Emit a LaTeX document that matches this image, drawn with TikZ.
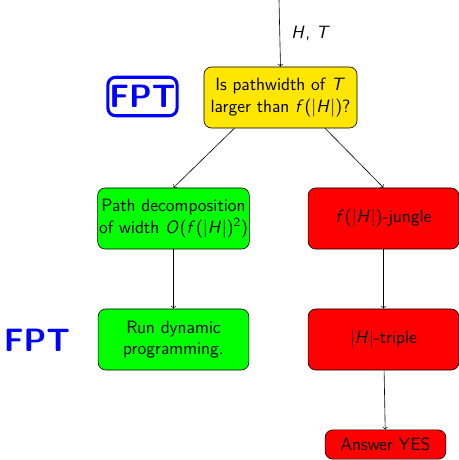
\documentclass[tikz,border=0pt]{standalone}
\usetikzlibrary{positioning}
\newcommand{\mi}[1]{\textit{#1}\kern0.5pt}
\definecolor{qyellow}{RGB}{255,230,0}
\begin{document}
\begin{tikzpicture}[x=0.65pt,y=-0.65pt,
  font=\fontsize{11.6}{14}\selectfont\sffamily,
  box/.style={draw,rounded corners=5pt,align=center,minimum width=98pt,minimum height=39.7pt,inner sep=1pt},
  fpt/.style={text=blue,font=\fontsize{21}{25}\selectfont\sffamily\bfseries}]
  \useasboundingbox (0,0) rectangle (458,460);
  \coordinate (in) at (279,0);
  \node[box,fill=qyellow,minimum width=99.5pt] (q) at (280.5,97.5) {Is pathwidth of \mi{T}\\larger than \mi{f}(|\mi{H}|)?};
  \node[box,fill=green] (pd) at (173.5,218.5) {Path decomposition\\of width \mi{O}(\mi{f}(|\mi{H}|)\textsuperscript{2})};
  \node[box,fill=red] (jg) at (383.5,218.5) {\mi{f}(|\mi{H}|)-jungle};
  \node[box,fill=green] (dp) at (173.5,339.5) {Run dynamic\\programming.};
  \node[box,fill=red] (tr) at (383.5,339.5) {|\mi{H}|-triple};
  \node[box,fill=red,minimum width=78.5pt,minimum height=19pt] (yes) at (385.5,444.5) {Answer YES};
  \node[fpt,draw=blue,line width=2pt,rounded corners=5pt,minimum width=44pt,minimum height=25pt,inner sep=1pt] (fpt1) at (142.5,96.5) {FPT};
  \node[fpt] (fpt2) at (37,340) {FPT};
  \draw[->] (in) -- node[right,xshift=4pt] {\mi{H}, \mi{T}} (q.north);
  \draw[->] ([xshift=-30pt]q.south) -- (pd.north);
  \draw[->] ([xshift=29pt]q.south) -- (jg.north);
  \draw[->] (pd) -- (dp);
  \draw[->] (jg) -- (tr);
  \draw[->] (tr) -- (yes);
\end{tikzpicture}
\end{document}
